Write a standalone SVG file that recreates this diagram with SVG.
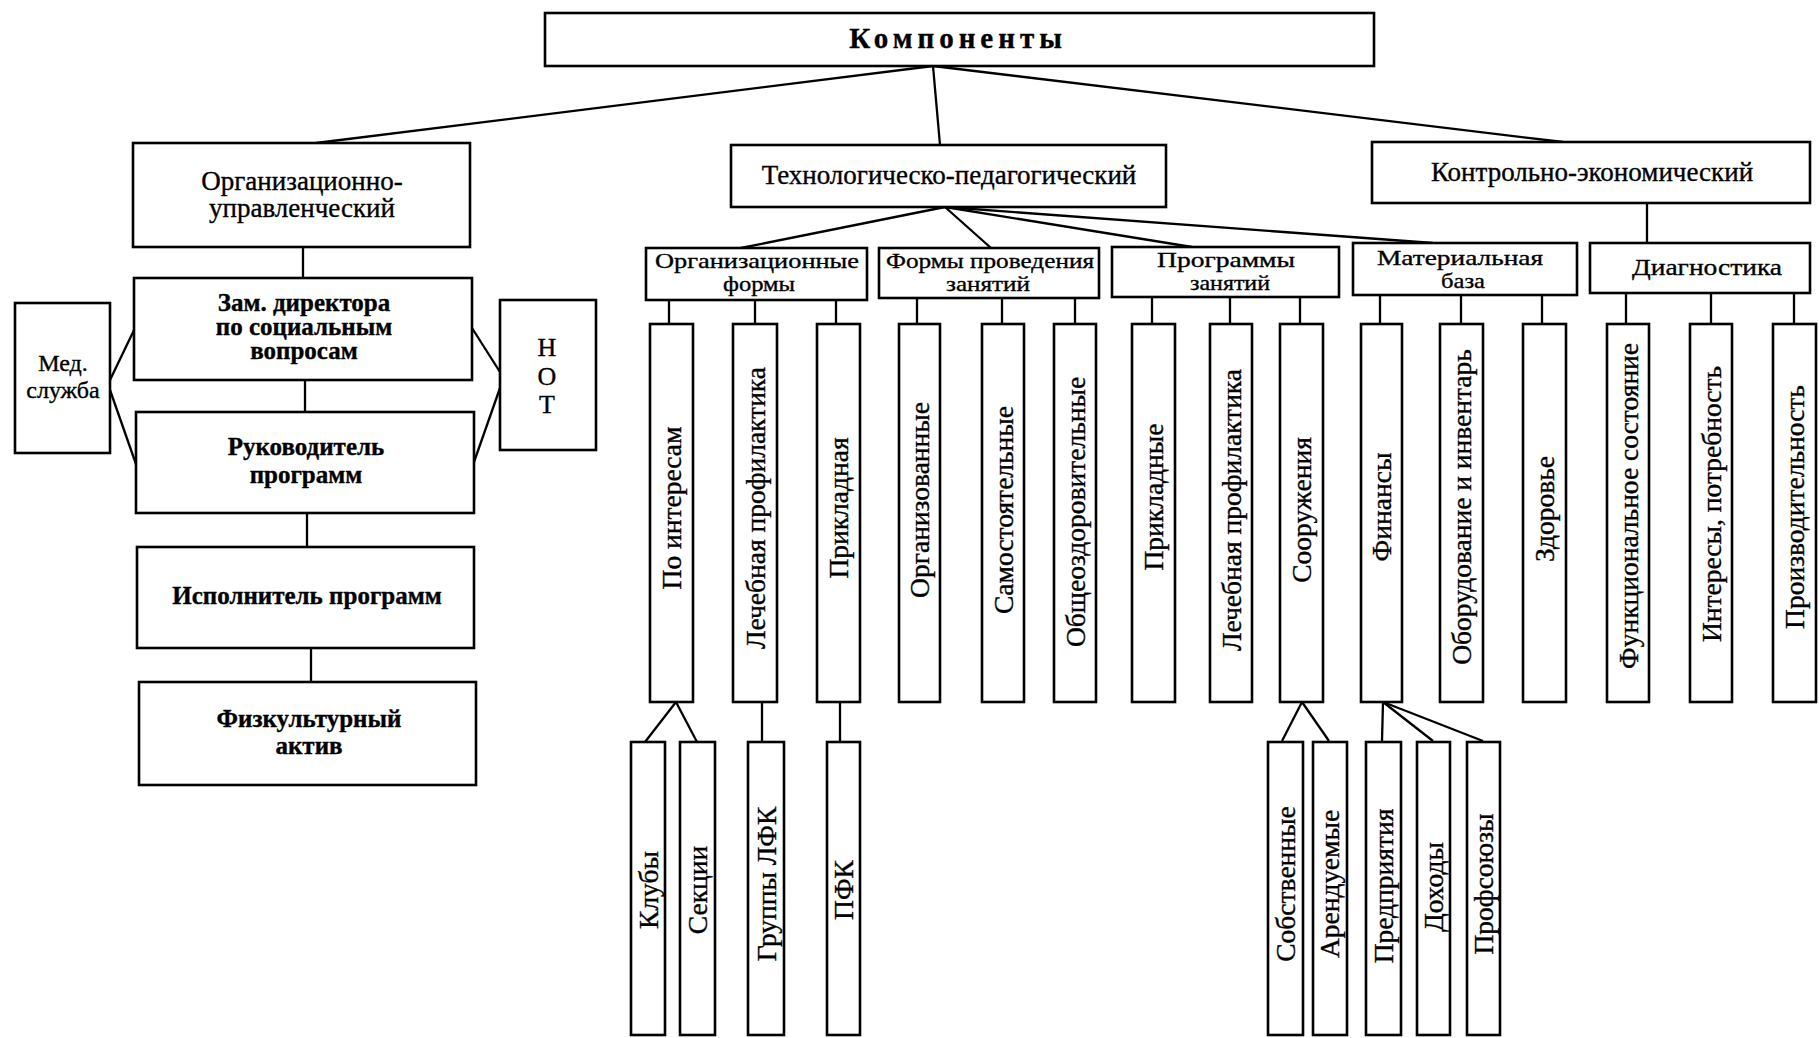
<svg xmlns="http://www.w3.org/2000/svg" width="1819" height="1038" viewBox="0 0 1819 1038">
<style>
.box{fill:#fff;stroke:#000;stroke-width:2.6}
.ln{stroke:#000;stroke-width:2.3;fill:none}
.t{font-family:"Liberation Serif","Times New Roman",serif;font-size:27px;fill:#000;stroke:#000;stroke-width:0.35;text-anchor:middle}
.b{font-weight:bold;font-size:25px}
.s{font-size:22px}
.v{font-size:27.5px}
</style>
<rect width="1819" height="1038" fill="#fff"/>
<g id="connectors">
<line class="ln" x1="933" y1="66" x2="316" y2="143"/>
<line class="ln" x1="933" y1="66" x2="940" y2="145"/>
<line class="ln" x1="933" y1="66" x2="1563" y2="142"/>
<line class="ln" x1="303" y1="247" x2="303" y2="278"/>
<line class="ln" x1="305" y1="380" x2="305" y2="412"/>
<line class="ln" x1="307" y1="513" x2="307" y2="547"/>
<line class="ln" x1="311" y1="648" x2="311" y2="682"/>
<line class="ln" x1="110" y1="380" x2="135" y2="328"/>
<line class="ln" x1="110" y1="390" x2="137" y2="467"/>
<line class="ln" x1="472" y1="328" x2="500" y2="372"/>
<line class="ln" x1="474" y1="462" x2="500" y2="388"/>
<line class="ln" x1="945" y1="207" x2="741" y2="248"/>
<line class="ln" x1="945" y1="207" x2="991" y2="248"/>
<line class="ln" x1="945" y1="207" x2="1192" y2="247"/>
<line class="ln" x1="945" y1="207" x2="1433" y2="243"/>
<line class="ln" x1="1647" y1="203" x2="1647" y2="243"/>
<line class="ln" x1="669" y1="300" x2="669" y2="324"/>
<line class="ln" x1="755" y1="300" x2="755" y2="324"/>
<line class="ln" x1="836" y1="300" x2="836" y2="324"/>
<line class="ln" x1="917" y1="298" x2="917" y2="324"/>
<line class="ln" x1="1002" y1="298" x2="1002" y2="324"/>
<line class="ln" x1="1075" y1="298" x2="1075" y2="324"/>
<line class="ln" x1="1152" y1="297" x2="1152" y2="324"/>
<line class="ln" x1="1230" y1="297" x2="1230" y2="324"/>
<line class="ln" x1="1300" y1="297" x2="1300" y2="324"/>
<line class="ln" x1="1380" y1="295" x2="1380" y2="324"/>
<line class="ln" x1="1461" y1="295" x2="1461" y2="324"/>
<line class="ln" x1="1542" y1="295" x2="1542" y2="324"/>
<line class="ln" x1="1626" y1="293" x2="1626" y2="324"/>
<line class="ln" x1="1711" y1="293" x2="1711" y2="324"/>
<line class="ln" x1="1794" y1="293" x2="1794" y2="324"/>
<line class="ln" x1="676" y1="702" x2="645" y2="742"/>
<line class="ln" x1="676" y1="702" x2="697" y2="742"/>
<line class="ln" x1="762" y1="702" x2="762" y2="742"/>
<line class="ln" x1="840" y1="702" x2="840" y2="742"/>
<line class="ln" x1="1302" y1="702" x2="1282" y2="741"/>
<line class="ln" x1="1302" y1="702" x2="1329" y2="741"/>
<line class="ln" x1="1383" y1="702" x2="1382" y2="741"/>
<line class="ln" x1="1383" y1="702" x2="1433" y2="741"/>
<line class="ln" x1="1383" y1="702" x2="1483" y2="741"/>
</g>
<g id="n-komponenty"><rect class="box" x="545" y="13" width="829" height="53"/><text class="t" x="958" y="48" style="font-size:29px;font-weight:bold;letter-spacing:5px">Компоненты</text></g>
<g id="n-org"><rect class="box" x="133" y="143" width="337" height="104"/><text class="t" x="302" y="190">Организационно-</text><text class="t" x="302" y="217">управленческий</text></g>
<g id="n-tech"><rect class="box" x="731" y="145" width="435" height="62"/><text class="t" x="949" y="184">Технологическо-педагогический</text></g>
<g id="n-kontr"><rect class="box" x="1372" y="142" width="438" height="61"/><text class="t" x="1592" y="181">Контрольно-экономический</text></g>
<g id="n-zam"><rect class="box" x="134" y="278" width="338" height="102"/><text class="t b" x="304" y="311">Зам. директора</text><text class="t b" x="304" y="335">по социальным</text><text class="t b" x="304" y="359">вопросам</text></g>
<g id="n-ruk"><rect class="box" x="136" y="412" width="338" height="101"/><text class="t b" x="306" y="455">Руководитель</text><text class="t b" x="306" y="483">программ</text></g>
<g id="n-isp"><rect class="box" x="137" y="547" width="337" height="101"/><text class="t b" x="307" y="604">Исполнитель программ</text></g>
<g id="n-fiz"><rect class="box" x="139" y="682" width="337" height="103"/><text class="t b" x="309" y="727">Физкультурный</text><text class="t b" x="309" y="754">актив</text></g>
<g id="n-med"><rect class="box" x="15" y="303" width="95" height="150"/><text class="t" x="63" y="371" style="font-size:24px">Мед.</text><text class="t" x="63" y="398" style="font-size:24px">служба</text></g>
<g id="n-not"><rect class="box" x="500" y="300" width="96" height="150"/><text class="t" x="547" y="356" style="font-size:26px">Н</text><text class="t" x="547" y="385" style="font-size:26px">О</text><text class="t" x="547" y="413" style="font-size:26px">Т</text></g>
<g id="n-orgforms"><rect class="box" x="646" y="248" width="221" height="52"/><text class="t s" x="757" y="268" textLength="204" lengthAdjust="spacingAndGlyphs">Организационные</text><text class="t s" x="759" y="291" textLength="72" lengthAdjust="spacingAndGlyphs">формы</text></g>
<g id="n-formy"><rect class="box" x="879" y="248" width="220" height="50"/><text class="t s" x="990" y="268" textLength="208" lengthAdjust="spacingAndGlyphs">Формы проведения</text><text class="t s" x="988" y="291" textLength="84" lengthAdjust="spacingAndGlyphs">занятий</text></g>
<g id="n-progr"><rect class="box" x="1112" y="247" width="227" height="50"/><text class="t s" x="1226" y="267" textLength="138" lengthAdjust="spacingAndGlyphs">Программы</text><text class="t s" x="1230" y="290" textLength="80" lengthAdjust="spacingAndGlyphs">занятий</text></g>
<g id="n-mat"><rect class="box" x="1353" y="243" width="224" height="52"/><text class="t s" x="1460" y="265" textLength="166" lengthAdjust="spacingAndGlyphs">Материальная</text><text class="t s" x="1463" y="288" textLength="44" lengthAdjust="spacingAndGlyphs">база</text></g>
<g id="n-diag"><rect class="box" x="1590" y="243" width="220" height="50"/><text class="t s" x="1707" y="275" textLength="150" lengthAdjust="spacingAndGlyphs" style="font-size:24px">Диагностика</text></g>
<g id="n-pointer"><rect class="box" x="650" y="324" width="43" height="378"/><text class="t v" transform="translate(681,508) rotate(-90)">По интересам</text></g>
<g id="n-lech1"><rect class="box" x="733" y="324" width="44" height="378"/><text class="t v" transform="translate(765,508) rotate(-90)">Лечебная профилактика</text></g>
<g id="n-prikl1"><rect class="box" x="817" y="324" width="43" height="378"/><text class="t v" transform="translate(848,508) rotate(-90)">Прикладная</text></g>
<g id="n-organiz"><rect class="box" x="899" y="324" width="41" height="378"/><text class="t v" transform="translate(929,500) rotate(-90)">Организованные</text></g>
<g id="n-samost"><rect class="box" x="982" y="324" width="42" height="378"/><text class="t v" transform="translate(1013,510) rotate(-90)">Самостоятельные</text></g>
<g id="n-obsh"><rect class="box" x="1054" y="324" width="42" height="378"/><text class="t v" transform="translate(1085,512) rotate(-90)">Общеоздоровительные</text></g>
<g id="n-prikl2"><rect class="box" x="1132" y="324" width="43" height="378"/><text class="t v" transform="translate(1163,497) rotate(-90)">Прикладные</text></g>
<g id="n-lech2"><rect class="box" x="1210" y="324" width="42" height="378"/><text class="t v" transform="translate(1241,510) rotate(-90)">Лечебная профилактика</text></g>
<g id="n-soor"><rect class="box" x="1280" y="324" width="43" height="378"/><text class="t v" transform="translate(1311,510) rotate(-90)">Сооружения</text></g>
<g id="n-fin"><rect class="box" x="1361" y="324" width="41" height="378"/><text class="t v" transform="translate(1391,507) rotate(-90)">Финансы</text></g>
<g id="n-obor"><rect class="box" x="1440" y="324" width="43" height="378"/><text class="t v" transform="translate(1471,507) rotate(-90)">Оборудование и инвентарь</text></g>
<g id="n-zdor"><rect class="box" x="1523" y="324" width="43" height="378"/><text class="t v" transform="translate(1554,509) rotate(-90)">Здоровье</text></g>
<g id="n-func"><rect class="box" x="1607" y="324" width="42" height="378"/><text class="t v" transform="translate(1638,506) rotate(-90)">Функциональное состояние</text></g>
<g id="n-inter"><rect class="box" x="1690" y="324" width="42" height="378"/><text class="t v" transform="translate(1721,504) rotate(-90)">Интересы, потребность</text></g>
<g id="n-proizv"><rect class="box" x="1773" y="324" width="43" height="378"/><text class="t v" transform="translate(1804,507) rotate(-90)">Производительность</text></g>
<g id="n-kluby"><rect class="box" x="631" y="742" width="34" height="293"/><text class="t v" transform="translate(658,890) rotate(-90)">Клубы</text></g>
<g id="n-sekcii"><rect class="box" x="680" y="742" width="35" height="293"/><text class="t v" transform="translate(707,890) rotate(-90)">Секции</text></g>
<g id="n-lfk"><rect class="box" x="748" y="742" width="36" height="293"/><text class="t v" transform="translate(776,884) rotate(-90)">Группы ЛФК</text></g>
<g id="n-pfk"><rect class="box" x="827" y="742" width="33" height="293"/><text class="t v" transform="translate(853,890) rotate(-90)">ПФК</text></g>
<g id="n-sobstv"><rect class="box" x="1268" y="742" width="35" height="293"/><text class="t v" transform="translate(1295,884) rotate(-90)">Собственные</text></g>
<g id="n-arend"><rect class="box" x="1313" y="742" width="34" height="293"/><text class="t v" transform="translate(1339,884) rotate(-90)">Арендуемые</text></g>
<g id="n-predpr"><rect class="box" x="1366" y="742" width="35" height="293"/><text class="t v" transform="translate(1393,886) rotate(-90)">Предприятия</text></g>
<g id="n-dohody"><rect class="box" x="1417" y="742" width="33" height="293"/><text class="t v" transform="translate(1443,887) rotate(-90)">Доходы</text></g>
<g id="n-profs"><rect class="box" x="1467" y="742" width="33" height="293"/><text class="t v" transform="translate(1493,884) rotate(-90)">Профсоюзы</text></g>
</svg>
